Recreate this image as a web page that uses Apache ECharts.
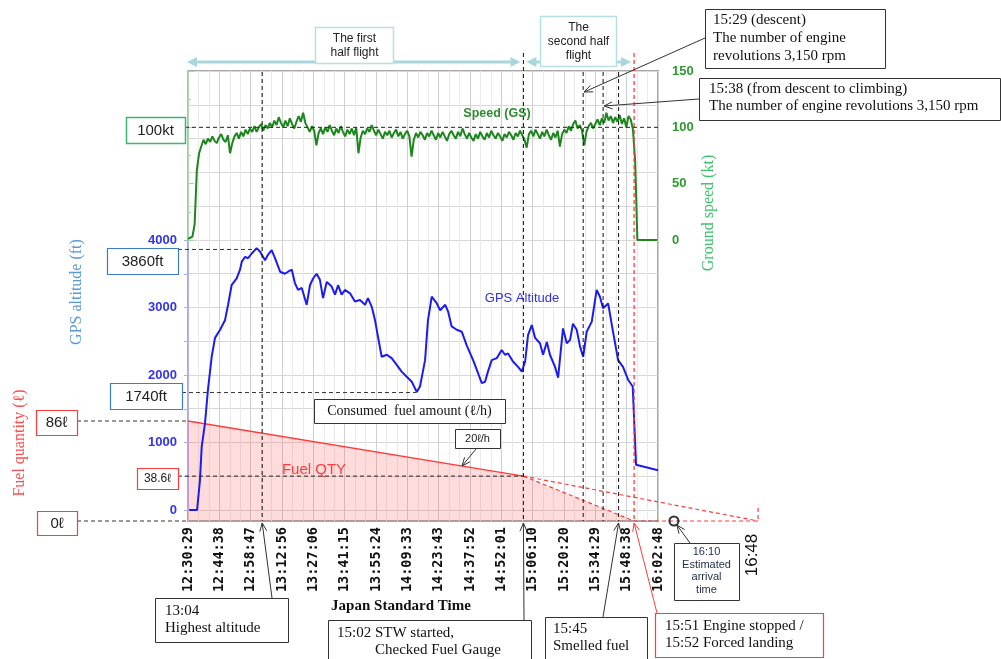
<!DOCTYPE html>
<html>
<head>
<meta charset="utf-8">
<title>Flight record</title>
<script src="https://cdn.jsdelivr.net/npm/echarts@6/dist/echarts.min.js"></script>
<style>
  html, body { margin: 0; padding: 0; background: #fff; }
  #chart { width: 1001px; height: 659px; }
</style>
</head>
<body>
<div id="chart"></div>
<script>
// x axis tick labels (equal steps)
var TICK_LABELS = ['12:30:29', '12:44:38', '12:58:47', '13:12:56', '13:27:06', '13:41:15', '13:55:24', '14:09:33',
  '14:23:43', '14:37:52', '14:52:01', '15:06:10', '15:20:20', '15:34:29', '15:48:38', '16:02:48'];

// GPS altitude (ft), minutes after 12:30:29
var ALT_MIN = [0.5, 4.1, 5.4, 6.2, 7.7, 9.0, 10.7, 12.2, 14.5, 16.7,
  18.1, 19.7, 22.0, 23.5, 24.3, 25.8, 27.1, 28.8, 31.0, 32.5,
  34.8, 36.1, 37.8, 39.3, 41.6, 43.8, 45.2, 46.9, 48.3, 49.7,
  51.4, 53.6, 55.1, 56.5, 58.1, 59.6, 61.0, 62.7, 64.9, 66.4,
  67.8, 69.4, 70.9, 73.2, 75.4, 77.7, 80.0, 81.3, 83.0, 84.5,
  85.8, 87.5, 89.8, 92.0, 94.3, 96.5, 98.8, 101.1, 103.3, 104.8,
  107.1, 108.4, 110.1, 112.4, 113.9, 116.2, 117.5, 119.1, 121.4, 123.7,
  125.9, 128.8, 131.0, 132.7, 134.2, 135.5, 137.2, 139.5, 141.7, 143.2,
  144.6, 146.8, 149.1, 150.8, 152.3, 153.6, 155.3, 156.8, 159.0, 160.4,
  162.1, 163.5, 165.8, 167.2, 168.8, 169.4, 171.1, 172.6, 173.9, 175.6,
  177.1, 178.5, 180.1, 182.4, 184.6, 186.1, 187.5, 189.8, 192.0, 194.3,
  196.5, 198.8, 200.9, 202.4, 212.3];
var ALT_FT = [0, 0, 440, 940, 1290, 1780, 2270, 2550, 2670, 2810,
  3040, 3330, 3430, 3560, 3680, 3750, 3730, 3800, 3880, 3830,
  3700, 3780, 3850, 3730, 3530, 3500, 3530, 3560, 3360, 3260,
  3290, 3040, 3330, 3430, 3500, 3410, 3140, 3380, 3310, 3190,
  3330, 3190, 3260, 3210, 3090, 3110, 3040, 3140, 3010, 2810,
  2570, 2270, 2300, 2250, 2150, 2050, 1975, 1900, 1750, 1830,
  2220, 2810, 3160, 3060, 2960, 3040, 2940, 2720, 2670, 2640,
  2440, 2220, 2030, 1880, 1900, 2050, 2220, 2250, 2370, 2300,
  2320, 2200, 2120, 2050, 2200, 2590, 2740, 2550, 2470, 2300,
  2490, 2300, 2120, 1960, 2490, 2690, 2470, 2520, 2760, 2670,
  2420, 2270, 2640, 2790, 3260, 3160, 2990, 3060, 2640, 2220,
  2120, 1930, 1830, 670, 590];

// ground speed (kt), one sample per minute from 12:30:29
var SPEED_KT = [1, 2, 3, 14, 62, 77, 83, 89, 85, 90,
  87, 92, 88, 86, 91, 94, 89, 87, 93, 77,
  86, 92, 95, 90, 96, 92, 98, 94, 99, 96,
  101, 96, 100, 103, 97, 102, 99, 104, 100, 106,
  102, 109, 104, 100, 106, 101, 108, 103, 99, 105,
  110, 105, 113, 104, 100, 96, 101, 97, 84, 95,
  99, 94, 100, 96, 102, 97, 93, 99, 95, 101,
  96, 92, 98, 94, 99, 93, 100, 77, 91, 97,
  94, 99, 96, 102, 97, 93, 98, 94, 90, 96,
  93, 97, 91, 95, 98, 92, 96, 90, 94, 97,
  92, 74, 89, 95, 91, 96, 93, 89, 95, 92,
  97, 93, 89, 95, 91, 96, 92, 88, 94, 97,
  93, 90, 96, 92, 99, 94, 90, 95, 91, 88,
  94, 90, 96, 92, 89, 95, 91, 97, 93, 90,
  95, 92, 88, 94, 91, 96, 93, 89, 95, 92,
  97, 93, 89, 82, 94, 97, 92, 98, 94, 90,
  96, 92, 98, 93, 89, 95, 91, 97, 83, 94,
  98, 95, 101, 97, 103, 106, 99, 102, 97, 84,
  96, 101, 104, 99, 103, 107, 102, 108, 104, 113,
  106, 110, 104, 109, 105, 111, 103, 108, 100, 110,
  107, 98, 70, 0, 0, 0, 0, 0, 0, 0,
  0, 0, 0];

// fuel quantity (litres)
var FUEL_TIME = ['12:30:29', '15:02'];
var FUEL_L = [86, 38.6];
var ENGINE_STOP = '15:52';
var EST_EMPTY = '16:48';
var EST_ARRIVAL = '16:10';

// event times
var T_HIGHEST = '13:04', T_STW = '15:02', T_DESCENT = '15:29', T_CLIMB = '15:38', T_SMELL = '15:45';

function clk(s) {
  var p = s.split(':');
  return (+p[0]) * 60 + (+p[1]) + (p[2] ? (+p[2]) / 60 : 0);
}
var T0 = clk(TICK_LABELS[0]);
var STEP_MIN = (clk(TICK_LABELS[TICK_LABELS.length - 1]) - T0) / (TICK_LABELS.length - 1);
function u(min) { return min / STEP_MIN; }
function uc(s) { return u(clk(s) - T0); }
var X_END = uc(EST_EMPTY);

var speedData = SPEED_KT.map(function (v, i) { return [u(i), v]; });
var altData = ALT_MIN.map(function (m, i) { return [u(m), ALT_FT[i]]; });
var fuelSolid = FUEL_TIME.map(function (t, i) { return [uc(t), FUEL_L[i]]; });
var fuelSteep = [[uc(FUEL_TIME[1]), FUEL_L[1]], [uc(ENGINE_STOP), 0]];
var fuelProj = [[uc(FUEL_TIME[1]), FUEL_L[1]], [uc(EST_EMPTY), 0]];
var fuelZero = [[uc(ENGINE_STOP), 0], [uc(EST_EMPTY), 0], [uc(EST_EMPTY), 14]];

var PLOT_L = 188, PLOT_W = 470;
var RED = '#ff3b3b';

var chart = echarts.init(document.getElementById('chart'));
var hidden = { show: false };
var plain = function (v) { return String(v); };

chart.setOption({
  animation: false,
  backgroundColor: '#fff',
  grid: [
    { left: PLOT_L, top: 71, width: PLOT_W, height: 450, show: true, borderColor: '#a8a8a8', borderWidth: 2, backgroundColor: 'transparent' },
    { left: PLOT_L, top: 71, width: PLOT_W, height: 439 },
    { left: PLOT_L, top: 240, width: PLOT_W, height: 270 },
    { left: PLOT_L, top: 71, width: PLOT_W, height: 169 },
    { left: PLOT_L, top: 421, width: PLOT_W / 15 * X_END, height: 100 }
  ],
  xAxis: [
    {
      gridIndex: 0, type: 'value', min: 0, max: 15, interval: 1,
      axisLine: hidden, axisTick: hidden,
      axisLabel: {
        rotate: 90, margin: 6, fontFamily: 'DejaVu Sans Mono', fontWeight: 'bold', fontSize: 13.5, color: '#111',
        formatter: function (v) { return TICK_LABELS[Math.round(v)] || ''; }
      },
      splitLine: { show: true, lineStyle: { color: '#d0d0d0', width: 1 } },
      minorTick: { show: false, splitNumber: 3 },
      minorSplitLine: { show: true, lineStyle: { color: '#ebebeb', width: 1 } }
    },
    { gridIndex: 1, type: 'value', min: 0, max: 15, show: false },
    { gridIndex: 2, type: 'value', min: 0, max: 15, show: false },
    { gridIndex: 3, type: 'value', min: 0, max: 15, show: false },
    { gridIndex: 4, type: 'value', min: 0, max: X_END, show: false }
  ],
  yAxis: [
    { gridIndex: 0, type: 'value', min: 0, max: 1, show: false },
    {
      gridIndex: 1, type: 'value', min: 0, max: 6500, interval: 500,
      axisLine: hidden, axisTick: hidden, axisLabel: hidden,
      splitLine: { show: true, lineStyle: { color: '#d8d8d8' } }
    },
    {
      gridIndex: 2, type: 'value', min: 0, max: 4000, interval: 1000, position: 'left', offset: 5,
      axisLine: { show: true, lineStyle: { color: '#aaaaff', width: 1.5 } },
      axisTick: { show: true, length: 4, lineStyle: { color: '#aaaaff' } },
      minorTick: { show: true, splitNumber: 2, length: 4, lineStyle: { color: '#aaaaff' } },
      axisLabel: { margin: 6, color: '#3333ee', fontWeight: 'bold', fontSize: 13, fontFamily: 'Liberation Sans', formatter: plain },
      splitLine: hidden
    },
    {
      gridIndex: 3, type: 'value', min: 0, max: 150, interval: 50, position: 'right', offset: 6,
      axisLine: { show: true, lineStyle: { color: '#a6d8a6', width: 1.5 } },
      axisTick: { show: true, length: 6, lineStyle: { color: '#a6d8a6' } },
      minorTick: { show: true, splitNumber: 2, length: 3, lineStyle: { color: '#a6d8a6' } },
      axisLabel: { margin: 8, color: '#2e9a2e', fontWeight: 'bold', fontSize: 13, fontFamily: 'Liberation Sans', formatter: plain },
      splitLine: hidden
    },
    { gridIndex: 4, type: 'value', min: 0, max: 86, show: false }
  ],
  series: [
    {
      name: 'Fuel QTY', type: 'line', xAxisIndex: 4, yAxisIndex: 4, data: fuelSolid,
      symbol: 'none', clip: false, z: 2,
      lineStyle: { color: RED, width: 1.5 }, areaStyle: { color: 'rgba(255,70,70,0.27)' }
    },
    {
      type: 'line', xAxisIndex: 4, yAxisIndex: 4, data: fuelSteep,
      symbol: 'none', clip: false, z: 2,
      lineStyle: { color: RED, width: 1.2, type: [4, 3] }, areaStyle: { color: 'rgba(255,70,70,0.27)' }
    },
    {
      type: 'line', xAxisIndex: 4, yAxisIndex: 4, data: fuelProj,
      symbol: 'none', clip: false, z: 2,
      lineStyle: { color: RED, width: 1.2, type: [4, 3] }
    },
    {
      type: 'line', xAxisIndex: 4, yAxisIndex: 4, data: fuelZero,
      symbol: 'none', clip: false, z: 2,
      lineStyle: { color: RED, width: 1.2, type: [4, 3] }
    },
    {
      type: 'scatter', xAxisIndex: 4, yAxisIndex: 4, data: [[uc(EST_ARRIVAL), 0]],
      symbol: 'circle', symbolSize: 9, clip: false, z: 6,
      itemStyle: { color: 'rgba(0,0,0,0)', borderColor: '#000', borderWidth: 2 }
    },
    {
      name: 'GPS Altitude', type: 'line', xAxisIndex: 2, yAxisIndex: 2, data: altData,
      symbol: 'none', clip: false, z: 4,
      lineStyle: { color: '#1c1cf0', width: 2 }
    },
    {
      name: 'Speed (GS)', type: 'line', xAxisIndex: 3, yAxisIndex: 3, data: speedData,
      symbol: 'none', clip: false, z: 4,
      lineStyle: { color: '#1e861e', width: 2 }
    }
  ]
});

// ---- annotations, anchored through the axes ----
function X(s) { return chart.convertToPixel({ xAxisIndex: 0 }, uc(s)); }
function XF(s) { return chart.convertToPixel({ xAxisIndex: 4 }, uc(s)); }
function YA(v) { return chart.convertToPixel({ yAxisIndex: 2 }, v); }
function YS(v) { return chart.convertToPixel({ yAxisIndex: 3 }, v); }
function YF(v) { return chart.convertToPixel({ yAxisIndex: 4 }, v); }

function line(x1, y1, x2, y2, color, dash, w) {
  return {
    type: 'line', z: 50, shape: { x1: x1, y1: y1, x2: x2, y2: y2 },
    style: { stroke: color || '#222', lineWidth: w || 1, lineDash: dash ? [4, 3] : null }
  };
}
function arrow(x1, y1, x2, y2, color) {
  var a = Math.atan2(y2 - y1, x2 - x1), L = 9;
  return [
    line(x1, y1, x2, y2, color || '#333'),
    {
      type: 'polyline', z: 50,
      shape: { points: [[x2 - L * Math.cos(a - 0.4), y2 - L * Math.sin(a - 0.4)], [x2, y2],
        [x2 - L * Math.cos(a + 0.4), y2 - L * Math.sin(a + 0.4)]] },
      style: { stroke: color || '#333', fill: 'none', lineWidth: 1 }
    }
  ];
}
function rect(x, y, w, h, stroke, lw) {
  return {
    type: 'rect', z: 60, shape: { x: x + 0.5, y: y + 0.5, width: w, height: h },
    style: { fill: '#fff', stroke: stroke || '#222', lineWidth: lw || 1 }
  };
}
function txt(x, y, text, font, color, align, valign, lh, rot) {
  return {
    type: 'text', z: 62, x: x, y: y, rotation: rot || 0,
    style: {
      text: text, font: font, fill: color || '#111',
      align: align || 'left', verticalAlign: valign || 'top',
      textAlign: align || 'left', textVerticalAlign: valign || 'top',
      lineHeight: lh || 17
    }
  };
}
function head(x, y, dir, color) {
  var s = 10;
  return {
    type: 'polygon', z: 58,
    shape: { points: [[x, y], [x - dir * s, y - 5], [x - dir * s, y + 5]] },
    style: { fill: color }
  };
}

var SERIF = '"Liberation Serif", "DejaVu Serif", serif';
var SANS = '"Liberation Sans", Arial, sans-serif';
var xHigh = X(T_HIGHEST), xStw = X(T_STW), xDesc = X(T_DESCENT), xClimb = X(T_CLIMB),
  xSmell = X(T_SMELL), xStop = X(ENGINE_STOP);
var plotBottom = YF(0);

// lowest point of the mid-flight descent
var iMin = 0;
ALT_MIN.forEach(function (m, i) {
  if (m > 60 && m < 130 && (iMin === 0 || ALT_FT[i] < ALT_FT[iMin])) iMin = i;
});
var xAltMin = chart.convertToPixel({ xAxisIndex: 2 }, u(ALT_MIN[iMin]));

var BLUE_ARROW = '#aad6dc';
var g = [];

// half-flight arrows
g.push(line(PLOT_L + 6, 62, xStw - 8, 62, BLUE_ARROW, false, 3));
g.push(head(PLOT_L - 1, 62, -1, BLUE_ARROW), head(xStw - 3, 62, 1, BLUE_ARROW));
g.push(line(xStw + 8, 62, xStop - 8, 62, BLUE_ARROW, false, 3));
g.push(head(xStw + 3, 62, -1, BLUE_ARROW), head(xStop - 3, 62, 1, BLUE_ARROW));

// event lines
g.push(line(xHigh, 72, xHigh, plotBottom, '#111', true));
g.push(line(xStw, 53, xStw, plotBottom, '#111', true));
g.push(line(xDesc, 72, xDesc, plotBottom, '#111', true));
g.push(line(xClimb, 72, xClimb, plotBottom, '#111', true));
g.push(line(xSmell, 72, xSmell, plotBottom, '#111', true));
g.push(line(xStop, 53, xStop, plotBottom, RED, true, 1.3));

// reference lines
g.push(line(185, YS(100), PLOT_L + PLOT_W, YS(100), '#222', true));
g.push(line(178, YA(3860), xHigh, YA(3860), '#333', true));
g.push(line(182, YA(1740), xAltMin, YA(1740), '#333', true));
g.push(line(77, YF(86), PLOT_L, YF(86), '#333', true));
g.push(line(178, YF(38.6), xStw, YF(38.6), '#222', true));
g.push(line(77, plotBottom, PLOT_L, plotBottom, '#333', true));

// boxes on the left
g.push(rect(126, 117, 59, 26, '#3cb86b', 1.5), txt(155.5, 130.5, '100kt', '15px ' + SANS, '#222', 'center', 'middle'));
g.push(rect(107, 248, 71, 26, '#3d7cc4', 1.2), txt(142.5, 261.5, '3860ft', '15px ' + SANS, '#222', 'center', 'middle'));
g.push(rect(110, 383, 72, 26, '#3d7cc4', 1.2), txt(146, 396.5, '1740ft', '15px ' + SANS, '#222', 'center', 'middle'));
g.push(rect(36, 410, 41, 25, RED, 1.2), txt(56.5, 423, '86ℓ', '15px ' + SANS, '#222', 'center', 'middle'));
g.push(rect(137, 468, 41, 21, RED, 1.2), txt(157.5, 479, '38.6ℓ', '12px ' + SANS, '#222', 'center', 'middle'));
g.push(rect(37, 511, 40, 24, RED, 1.2), txt(57, 523.5, '0ℓ', '15px ' + SANS, '#222', 'center', 'middle'));

// axis titles
g.push(txt(77, 292, 'GPS altitude (ft)', '16px ' + SERIF, '#5b9bd5', 'center', 'middle', 17, Math.PI / 2));
g.push(txt(20, 443, 'Fuel quantity (ℓ)', '16px ' + SERIF, '#ff4d4d', 'center', 'middle', 17, Math.PI / 2));
g.push(txt(709, 213, 'Ground speed (kt)', '16px ' + SERIF, '#3cc36b', 'center', 'middle', 17, Math.PI / 2));

// series labels
g.push(txt(497, 114, 'Speed (GS)', 'bold 12.5px ' + SANS, '#2e8b2e', 'center', 'middle'));
g.push(txt(522, 298, 'GPS Altitude', '13px ' + SANS, '#3030f0', 'center', 'middle'));
g.push(txt(314, 470, 'Fuel QTY', '15px ' + SANS, '#ff3b3b', 'center', 'middle'));

// half-flight boxes
g.push(rect(315, 27, 78, 36, '#b8dfe4', 1.5),
  txt(354.5, 45.5, 'The first\nhalf flight', '12px ' + SANS, '#222', 'center', 'middle', 14));
g.push(rect(540, 16, 76, 50, '#b8dfe4', 1.5),
  txt(578.5, 41.5, 'The\nsecond half\nflight', '12px ' + SANS, '#222', 'center', 'middle', 14));

// engine rpm notes
g.push(rect(705, 9, 180, 59, '#333'),
  txt(713, 11, '15:29 (descent)\nThe number of engine\nrevolutions 3,150 rpm', '15px ' + SERIF, '#111', 'left', 'top', 18));
g = g.concat(arrow(705, 38, xDesc + 1, 92));
g.push(rect(699, 78, 301, 42, '#333'),
  txt(709, 81, '15:38 (from descent to climbing)\nThe number of engine revolutions 3,150 rpm', '15px ' + SERIF, '#111', 'left', 'top', 17));
g = g.concat(arrow(699, 99, xClimb + 1, 106));

// fuel notes
g.push(rect(314, 399, 191, 24, '#333'),
  txt(409.5, 411.5, 'Consumed  fuel amount (ℓ/h)', '14px ' + SERIF, '#111', 'center', 'middle'));
g.push(rect(455, 429, 45, 19, '#333'), txt(477.5, 439, '20ℓ/h', '11px ' + SANS, '#222', 'center', 'middle'));
g = g.concat(arrow(476, 449, 462, 466));

// bottom notes
g.push(txt(401, 606, 'Japan Standard Time', 'bold 15px ' + SERIF, '#111', 'center', 'middle'));
g.push(rect(155, 598, 133, 44, '#333'),
  txt(165, 603, '13:04\nHighest altitude', '15px ' + SERIF, '#111', 'left', 'top', 17));
g = g.concat(arrow(272, 598, xHigh, plotBottom + 2));
g.push(rect(328, 620, 203, 45, '#333'),
  txt(337, 633, '15:02 STW started,', '15px ' + SERIF, '#111', 'left', 'middle'),
  txt(375, 650, 'Checked Fuel Gauge', '15px ' + SERIF, '#111', 'left', 'middle'));
g = g.concat(arrow(524, 620, xStw, plotBottom + 2));
g.push(rect(545, 617, 102, 50, '#333'),
  txt(553, 621, '15:45\nSmelled fuel', '15px ' + SERIF, '#111', 'left', 'top', 17));
g = g.concat(arrow(603, 617, xSmell, plotBottom + 2));
g.push(rect(655, 613, 168, 44, RED, 1.2),
  txt(665, 618, '15:51 Engine stopped /\n15:52 Forced landing', '15px ' + SERIF, '#111', 'left', 'top', 16.5));
g = g.concat(arrow(657, 613, xStop, plotBottom + 2, RED));
g.push(rect(674, 543, 65, 57, '#333'),
  txt(706.5, 546, '16:10\nEstimated\narrival\ntime', '11px ' + SANS, '#1f2a44', 'center', 'top', 12.5));
g = g.concat(arrow(690, 543, XF(EST_ARRIVAL) + 3, plotBottom + 4));
g.push(txt(XF(EST_EMPTY) - 6, 555, '16:48', '17px ' + SANS, '#111', 'center', 'middle', 18, Math.PI / 2));

chart.setOption({ graphic: { elements: g } });
</script>
</body>
</html>
